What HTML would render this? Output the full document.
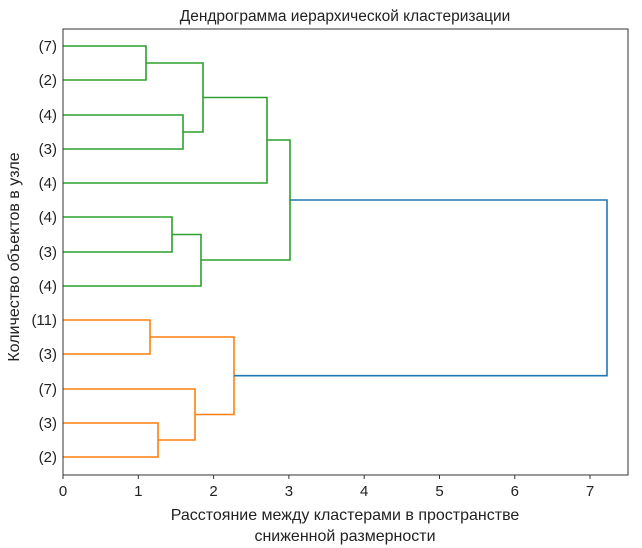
<!DOCTYPE html>
<html><head><meta charset="utf-8"><style>body{margin:0;background:#fff}svg{display:block}</style></head><body>
<svg width="642" height="548" xmlns="http://www.w3.org/2000/svg" font-family="Liberation Sans, DejaVu Sans, sans-serif">
<rect width="642" height="548" fill="#fff"/>
<text x="345" y="21" font-size="15.5" text-anchor="middle" fill="#222">Дендрограмма иерархической кластеризации</text>
<g fill="none" stroke-width="1.6">
<g stroke="#2ca02c">
<path d="M63 46H146V80H63"/>
<path d="M63 115H183V149H63"/>
<path d="M146 63H203V132H183"/>
<path d="M203 97.5H267V183H63"/>
<path d="M63 217H172V252H63"/>
<path d="M172 234.5H201V286H63"/>
<path d="M267 140H290V260H201"/>
</g>
<g stroke="#ff7f0e">
<path d="M63 320H150V354H63"/>
<path d="M63 423H158V457H63"/>
<path d="M63 389H195V440H158"/>
<path d="M150 337H234V414.5H195"/>
</g>
<path stroke="#1f77b4" d="M290 200H607V375.7H234"/>
</g>
<rect x="63" y="29" width="565" height="446" fill="none" stroke="#333" stroke-width="1"/>
<g font-size="15" fill="#222" text-anchor="end">
<text x="57" y="51">(7)</text><text x="57" y="85">(2)</text><text x="57" y="120">(4)</text><text x="57" y="154">(3)</text><text x="57" y="188">(4)</text><text x="57" y="222">(4)</text><text x="57" y="257">(3)</text><text x="57" y="291">(4)</text><text x="57" y="325">(11)</text><text x="57" y="359">(3)</text><text x="57" y="394">(7)</text><text x="57" y="428">(3)</text><text x="57" y="462">(2)</text>
</g>
<g stroke="#333"><path d="M63 475v4M138.3 475v4M213.6 475v4M288.9 475v4M364.2 475v4M439.5 475v4M514.8 475v4M590 475v4"/></g>
<g font-size="15" fill="#222" text-anchor="middle">
<text x="63" y="496">0</text><text x="138.3" y="496">1</text><text x="213.6" y="496">2</text><text x="288.9" y="496">3</text><text x="364.2" y="496">4</text><text x="439.5" y="496">5</text><text x="514.8" y="496">6</text><text x="590" y="496">7</text>
<text x="345" y="520" font-size="16">Расстояние между кластерами в пространстве</text>
<text x="345" y="541" font-size="16">сниженной размерности</text>
</g>
<text transform="translate(19,257) rotate(-90)" font-size="16" fill="#222" text-anchor="middle">Количество объектов в узле</text>
</svg>
</body></html>
